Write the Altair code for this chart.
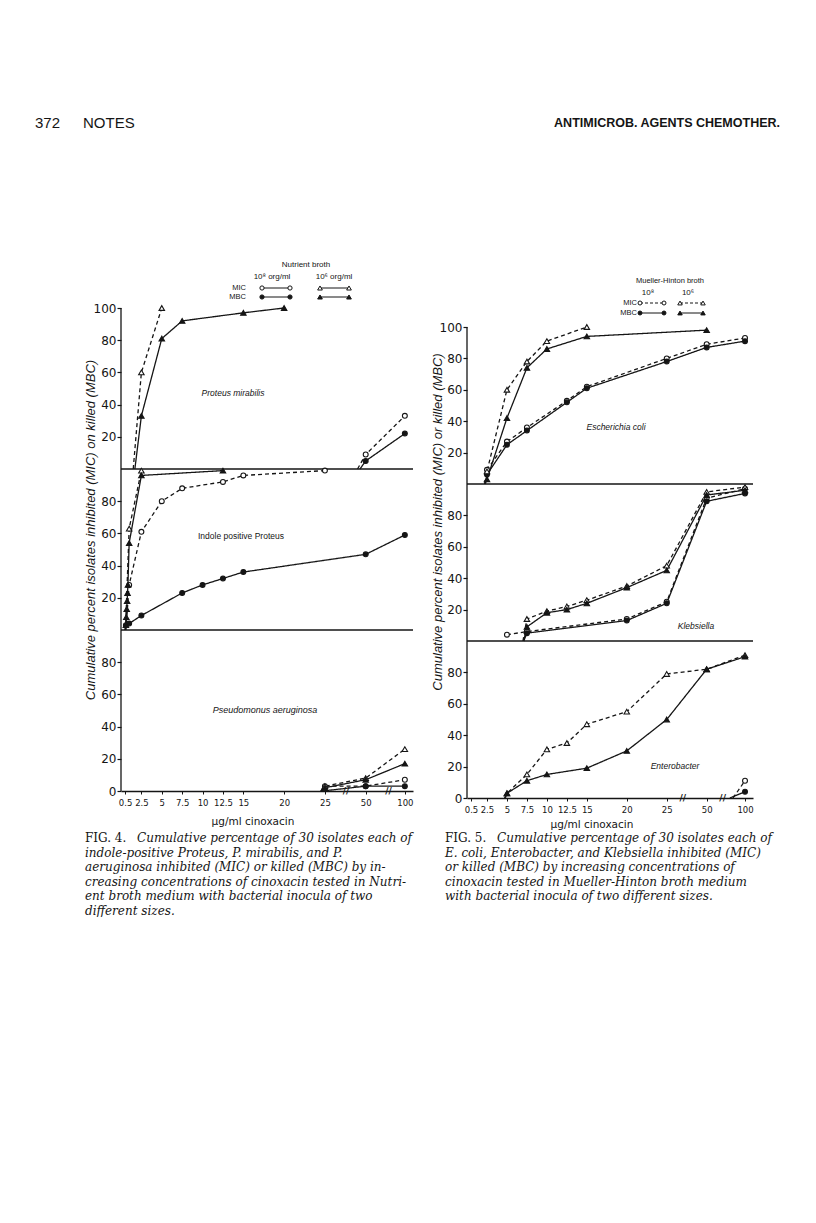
import altair as alt
import pandas as pd

# ---------------------------------------------------------------- axis ticks
X_TICK_CONC = [0.5, 2.5, 5, 7.5, 10, 12.5, 15, 20, 25, 50, 100]
X_TICK_LABELS = ["0.5", "2.5", "5", "7.5", "10", "12.5", "15", "20", "25", "50", "100"]
BROKEN_AT = {50: 30.0, 100: 34.8}          # broken axis: where 50 and 100 sit (axis units)
Y_TICKS = [0, 20, 40, 60, 80, 120, 140, 160, 180, 220, 240, 260, 280, 300]
Y_TICK_LABELS = ["0", "20", "40", "60", "80", "20", "40", "60", "80",
                 "20", "40", "60", "80", "100"]
PANEL_OFFSET = {"top": 200, "middle": 100, "bottom": 0}

# ---------------------------------------------------------------- Fig. 4 data
# lead = axis position where a curve leaves the zero line (no marker)
# Proteus mirabilis (top)
PM_MIC8_C = [50, 100];                  PM_MIC8_V = [9, 33];              PM_MIC8_LEAD = 29.0
PM_MBC8_C = [50, 100];                  PM_MBC8_V = [5, 22];              PM_MBC8_LEAD = 29.3
PM_MIC6_C = [2.5, 5];                   PM_MIC6_V = [60, 100];            PM_MIC6_LEAD = 1.5
PM_MBC6_C = [2.5, 5, 7.5, 15, 20];      PM_MBC6_V = [33, 81, 92, 97, 100]; PM_MBC6_LEAD = 1.7
# Indole positive Proteus (middle)
IP_MIC8_C = [1, 2.5, 5, 7.5, 12.5, 15, 25]
IP_MIC8_V = [28, 61, 80, 88, 92, 96, 99];                                 IP_MIC8_LEAD = 0.6
IP_MBC8_C = [0.6, 1, 2.5, 7.5, 10, 12.5, 15, 50, 100]
IP_MBC8_V = [3, 4, 9, 23, 28, 32, 36, 47, 59];                            IP_MBC8_LEAD = 0.5
IP_MIC6_C = [1, 2.5];                   IP_MIC6_V = [63, 99];             IP_MIC6_LEAD = 0.55
IP_MBC6_C = [0.6, 0.65, 0.7, 0.75, 0.8, 0.85, 1, 2.5, 12.5]
IP_MBC6_V = [3, 8, 13, 18, 23, 28, 54, 96, 99];                           IP_MBC6_LEAD = 0.5
# Pseudomonus aeruginosa (bottom)
PA_MIC6_C = [25, 50, 100];              PA_MIC6_V = [3, 8, 26];           PA_MIC6_LEAD = 24.5
PA_MBC6_C = [25, 50, 100];              PA_MBC6_V = [2, 7, 17];           PA_MBC6_LEAD = 24.6
PA_MIC8_C = [25, 50, 100];              PA_MIC8_V = [3, 3, 7];            PA_MIC8_LEAD = 24.5
PA_MBC8_C = [50, 100];                  PA_MBC8_V = [3, 3];               PA_MBC8_LEAD = 24.7

# ---------------------------------------------------------------- Fig. 5 data
# Escherichia coli (top)
EC_MIC6_C = [2.5, 5, 7.5, 10, 15];      EC_MIC6_V = [8, 60, 78, 91, 100]; EC_MIC6_LEAD = 2.2
EC_MBC6_C = [2.5, 5, 7.5, 10, 15, 50];  EC_MBC6_V = [3, 42, 74, 86, 94, 98]; EC_MBC6_LEAD = 2.2
EC_MIC8_C = [2.5, 5, 7.5, 12.5, 15, 25, 50, 100]
EC_MIC8_V = [9, 27, 36, 53, 62, 80, 89, 93];                              EC_MIC8_LEAD = 2.3
EC_MBC8_C = [2.5, 5, 7.5, 12.5, 15, 25, 50, 100]
EC_MBC8_V = [6, 25, 34, 52, 61, 78, 87, 91];                              EC_MBC8_LEAD = 2.3
# Klebsiella (middle)
KL_MIC8_C = [5, 7.5, 20, 25, 50, 100];  KL_MIC8_V = [4, 6, 14, 25, 91, 97]; KL_MIC8_LEAD = None
KL_MBC8_C = [7.5, 20, 25, 50, 100];     KL_MBC8_V = [5, 13, 24, 89, 94];  KL_MBC8_LEAD = 7.1
KL_MIC6_C = [7.5, 10, 12.5, 15, 20, 25, 50, 100]
KL_MIC6_V = [14, 19, 22, 26, 35, 48, 95, 98];                             KL_MIC6_LEAD = 7.0
KL_MBC6_C = [7.5, 10, 12.5, 15, 20, 25, 50, 100]
KL_MBC6_V = [9, 18, 20, 24, 34, 45, 93, 96];                              KL_MBC6_LEAD = 7.1
# Enterobacter (bottom)
EN_MIC6_C = [5, 7.5, 10, 12.5, 15, 20, 25, 50, 100]
EN_MIC6_V = [3, 15, 31, 35, 47, 55, 79, 82, 91];                          EN_MIC6_LEAD = 4.7
EN_MBC6_C = [5, 7.5, 10, 15, 20, 25, 50, 100]
EN_MBC6_V = [3, 11, 15, 19, 30, 50, 82, 90];                              EN_MBC6_LEAD = 4.8
EN_MIC8_C = [100];                      EN_MIC8_V = [11];                 EN_MIC8_LEAD = 33.3
EN_MBC8_C = [100];                      EN_MBC8_V = [4];                  EN_MBC8_LEAD = 32.9

FIG4_BREAKS = [27.6, 32.8]
FIG5_BREAKS = [27.0, 32.0]

CAPTION4 = ["indole-positive Proteus, P. mirabilis, and P.",
            "aeruginosa inhibited (MIC) or killed (MBC) by in-",
            "creasing concentrations of cinoxacin tested in Nutri-",
            "ent broth medium with bacterial inocula of two",
            "different sizes."]
CAPTION5 = ["E. coli, Enterobacter, and Klebsiella inhibited (MIC)",
            "or killed (MBC) by increasing concentrations of",
            "cinoxacin tested in Mueller-Hinton broth medium",
            "with bacterial inocula of two different sizes."]

INK = "#151515"
SANS = "DejaVu Sans"
LSANS = "Liberation Sans"
SERIF = "DejaVu Serif"
XMAX = 35.8
ONE = pd.DataFrame({"a": [0]})


def to_pos(c):
    return BROKEN_AT.get(c, c) if c > 25 else c


def build_df(series):
    rows = []
    for panel, measure, inoc, lead, conc, vals in series:
        key = f"{panel}|{measure}|{inoc}"
        off = PANEL_OFFSET[panel]
        i = 0
        if lead is not None:
            rows.append(dict(key=key, measure=measure, inoc=inoc, pos=lead, yg=off, idx=i, marker=False))
            i += 1
        for c, v in zip(conc, vals):
            rows.append(dict(key=key, measure=measure, inoc=inoc, pos=to_pos(c), yg=off + v, idx=i, marker=True))
            i += 1
    return pd.DataFrame(rows)


FIG4 = build_df([
    ("top", "MIC", "1e8", PM_MIC8_LEAD, PM_MIC8_C, PM_MIC8_V),
    ("top", "MBC", "1e8", PM_MBC8_LEAD, PM_MBC8_C, PM_MBC8_V),
    ("top", "MIC", "1e6", PM_MIC6_LEAD, PM_MIC6_C, PM_MIC6_V),
    ("top", "MBC", "1e6", PM_MBC6_LEAD, PM_MBC6_C, PM_MBC6_V),
    ("middle", "MIC", "1e8", IP_MIC8_LEAD, IP_MIC8_C, IP_MIC8_V),
    ("middle", "MBC", "1e8", IP_MBC8_LEAD, IP_MBC8_C, IP_MBC8_V),
    ("middle", "MIC", "1e6", IP_MIC6_LEAD, IP_MIC6_C, IP_MIC6_V),
    ("middle", "MBC", "1e6", IP_MBC6_LEAD, IP_MBC6_C, IP_MBC6_V),
    ("bottom", "MIC", "1e6", PA_MIC6_LEAD, PA_MIC6_C, PA_MIC6_V),
    ("bottom", "MBC", "1e6", PA_MBC6_LEAD, PA_MBC6_C, PA_MBC6_V),
    ("bottom", "MIC", "1e8", PA_MIC8_LEAD, PA_MIC8_C, PA_MIC8_V),
    ("bottom", "MBC", "1e8", PA_MBC8_LEAD, PA_MBC8_C, PA_MBC8_V),
])
FIG5 = build_df([
    ("top", "MIC", "1e6", EC_MIC6_LEAD, EC_MIC6_C, EC_MIC6_V),
    ("top", "MBC", "1e6", EC_MBC6_LEAD, EC_MBC6_C, EC_MBC6_V),
    ("top", "MIC", "1e8", EC_MIC8_LEAD, EC_MIC8_C, EC_MIC8_V),
    ("top", "MBC", "1e8", EC_MBC8_LEAD, EC_MBC8_C, EC_MBC8_V),
    ("middle", "MIC", "1e8", KL_MIC8_LEAD, KL_MIC8_C, KL_MIC8_V),
    ("middle", "MBC", "1e8", KL_MBC8_LEAD, KL_MBC8_C, KL_MBC8_V),
    ("middle", "MIC", "1e6", KL_MIC6_LEAD, KL_MIC6_C, KL_MIC6_V),
    ("middle", "MBC", "1e6", KL_MBC6_LEAD, KL_MBC6_C, KL_MBC6_V),
    ("bottom", "MIC", "1e6", EN_MIC6_LEAD, EN_MIC6_C, EN_MIC6_V),
    ("bottom", "MBC", "1e6", EN_MBC6_LEAD, EN_MBC6_C, EN_MBC6_V),
    ("bottom", "MIC", "1e8", EN_MIC8_LEAD, EN_MIC8_C, EN_MIC8_V),
    ("bottom", "MBC", "1e8", EN_MBC8_LEAD, EN_MBC8_C, EN_MBC8_V),
])

X_TICK_POS = [to_pos(c) for c in X_TICK_CONC]
X_LABEL_EXPR = " : ".join(f"abs(datum.value - {p}) < 0.01 ? '{l}'"
                          for p, l in zip(X_TICK_POS, X_TICK_LABELS)) + " : ''"
Y_LABEL_EXPR = " : ".join(f"datum.value == {v} ? '{l}'"
                          for v, l in zip(Y_TICKS, Y_TICK_LABELS)) + " : ''"


def figure(df, W, H, ymax, origin, extras):
    ox, oy = origin
    xaxis = alt.Axis(values=X_TICK_POS, labelExpr=X_LABEL_EXPR, title=None, grid=False,
                     labelFont=SANS, labelFontSize=8.5, labelColor=INK, tickColor=INK,
                     domainColor=INK, domainWidth=1.3, tickSize=3, labelPadding=4,
                     labelOverlap=False, labelFlush=False, labelBound=False,
                     labelSeparation=0)
    yaxis = alt.Axis(values=Y_TICKS, labelExpr=Y_LABEL_EXPR, title=None, grid=False,
                     labelFont=SANS, labelFontSize=12, labelColor=INK, tickColor=INK,
                     domain=False, tickSize=4, tickWidth=1.2,
                     labelPadding=1, labelOverlap=False, labelFlush=False, labelBound=False,
                     labelSeparation=0)
    xs = alt.Scale(domain=[0, XMAX], nice=False, zero=False)
    ys = alt.Scale(domain=[0, ymax], nice=False, zero=False)
    X = lambda f: alt.X(f, scale=xs, axis=xaxis)
    Y = lambda f: alt.Y(f, scale=ys, axis=yaxis)
    base = alt.Chart(df)
    dash = alt.StrokeDash("measure:N", legend=None,
                          scale=alt.Scale(domain=["MIC", "MBC"], range=[[4, 3], [1, 0]]))
    fill = alt.Fill("measure:N", legend=None,
                    scale=alt.Scale(domain=["MIC", "MBC"], range=["white", INK]))
    lines = base.mark_line(color=INK, strokeWidth=1.3).encode(
        x=X("pos:Q"), y=Y("yg:Q"), detail="key:N", order="idx:Q", strokeDash=dash)
    circ = base.transform_filter("datum.marker && datum.inoc == '1e8'").mark_point(
        shape="circle", size=24, filled=True, stroke=INK, strokeWidth=1.1, opacity=1).encode(
        x=X("pos:Q"), y=Y("yg:Q"), fill=fill)
    tri = base.transform_filter("datum.marker && datum.inoc == '1e6'").mark_point(
        shape="triangle-up", size=30, filled=True, stroke=INK, strokeWidth=1.1, opacity=1).encode(
        x=X("pos:Q"), y=Y("yg:Q"), fill=fill)
    seps = alt.Chart(pd.DataFrame({"yg": [100, 200]})).mark_rule(color=INK, strokeWidth=1.3).encode(
        y=Y("yg:Q"), x=alt.value(0), x2=alt.value(W))
    yline = alt.Chart(pd.DataFrame({"yg": [0], "y1": [300]})).mark_rule(
        color=INK, strokeWidth=1.3).encode(
        x=alt.value(0), y=Y("yg:Q"), y2="y1:Q")
    brk = alt.Chart(pd.DataFrame({"pos": extras.breaks})).mark_text(
        text="//", fontSize=9, font=SANS, color=INK, fontWeight="bold").encode(
        x=X("pos:Q"), y=alt.value(H))
    layers = [lines, seps, yline, brk, circ, tri]
    layers += extras(ox, oy, H)
    return alt.layer(*layers).properties(width=W, height=H)


def txt(s, x, y, size=9, align="center", style="normal", weight="normal", angle=0,
        font=LSANS, baseline="middle"):
    return alt.Chart(ONE).mark_text(text=s, fontSize=size, align=align, baseline=baseline,
                                    fontStyle=style, fontWeight=weight, angle=angle,
                                    font=font, color=INK).encode(x=alt.value(x), y=alt.value(y))


def glyph(x, y, shape, filled, size=22):
    return alt.Chart(ONE).mark_point(shape=shape, filled=True, fill=INK if filled else "white",
                                     stroke=INK, strokeWidth=1.0, size=size, opacity=1).encode(
        x=alt.value(x), y=alt.value(y))


def hline(x1, x2, y, dashed=False):
    kw = dict(color=INK, strokeWidth=1.0)
    if dashed:
        kw["strokeDash"] = [3, 2]
    return alt.Chart(ONE).mark_rule(**kw).encode(x=alt.value(x1), x2=alt.value(x2), y=alt.value(y))


def anchor(x, y):
    return alt.Chart(ONE).mark_rule(opacity=0, strokeWidth=0).encode(
        x=alt.value(x), x2=alt.value(x), y=alt.value(y), y2=alt.value(y))


def fig4_extras(ox, oy, H):
    P = lambda X, Y: (X - ox, Y - oy)
    L = []
    L.append(anchor(*P(8, 8)))
    L.append(anchor(*P(425, 8)))
    L.append(txt("372", *P(35, 123), size=15, align="left", font=LSANS))
    L.append(txt("NOTES", *P(83, 123), size=15, align="left", font=LSANS))
    # legend
    L.append(txt("Nutrient broth", *P(306, 265), size=8))
    L.append(txt("10⁸ org/ml", *P(272, 277), size=8))
    L.append(txt("10⁶ org/ml", *P(334, 277), size=8))
    L.append(txt("MIC", *P(246, 288), size=7.5, align="right"))
    L.append(txt("MBC", *P(246, 297), size=7.5, align="right"))
    for yy, filled in [(288, False), (297, True)]:
        L.append(hline(262 - ox, 290 - ox, yy - oy))
        L.append(glyph(262 - ox, yy - oy, "circle", filled, 18))
        L.append(glyph(290 - ox, yy - oy, "circle", filled, 18))
        L.append(hline(320 - ox, 349 - ox, yy - oy))
        L.append(glyph(320 - ox, yy - oy, "triangle-up", filled, 22))
        L.append(glyph(349 - ox, yy - oy, "triangle-up", filled, 22))
    # species
    L.append(txt("Proteus mirabilis", *P(233, 393), size=8.5, style="italic"))
    L.append(txt("Indole positive Proteus", *P(241, 536), size=8.5))
    L.append(txt("Pseudomonus aeruginosa", *P(265, 710), size=9, style="italic"))
    # axis titles
    L.append(txt("Cumulative  percent  isolates  inhibited  (MIC)  on  killed  (MBC)",
                 *P(91, 530), size=13, style="italic", angle=270))
    L.append(txt("µg/ml   cinoxacin", *P(253, 822), size=10.5, font=SANS))
    # caption
    L.append(txt("FIG. 4.", *P(85, 838), size=12, align="left", font=SERIF))
    L.append(txt("Cumulative percentage of 30 isolates each of", *P(137, 838), size=12,
                 align="left", font=SERIF, style="italic"))
    for k, line in enumerate(CAPTION4):
        L.append(txt(line, *P(85, 853 + 14.4 * k), size=12, align="left", font=SERIF, style="italic"))
    return L


def fig5_extras(ox, oy, H):
    P = lambda X, Y: (X - ox, Y - oy)
    L = []
    L.append(anchor(*P(425, 8)))
    L.append(txt("ANTIMICROB. AGENTS CHEMOTHER.", *P(780, 123), size=12.5, align="right",
                 weight="bold", font=LSANS))
    # legend
    L.append(txt("Mueller-Hinton broth", *P(670, 281), size=7.5))
    L.append(txt("10⁸", *P(648, 293), size=8))
    L.append(txt("10⁶", *P(688, 293), size=8))
    L.append(txt("MIC", *P(637, 303), size=7.5, align="right"))
    L.append(txt("MBC", *P(637, 313), size=7.5, align="right"))
    for yy, filled, dashed in [(303, False, True), (313, True, False)]:
        L.append(hline(640 - ox, 664 - ox, yy - oy, dashed))
        L.append(glyph(640 - ox, yy - oy, "circle", filled, 16))
        L.append(glyph(664 - ox, yy - oy, "circle", filled, 16))
        L.append(hline(680 - ox, 703 - ox, yy - oy, dashed))
        L.append(glyph(680 - ox, yy - oy, "triangle-up", filled, 20))
        L.append(glyph(703 - ox, yy - oy, "triangle-up", filled, 20))
    L.append(txt("Escherichia coli", *P(616, 427), size=8.5, style="italic"))
    L.append(txt("Klebsiella", *P(696, 626), size=8.5, style="italic"))
    L.append(txt("Enterobacter", *P(675, 766), size=8.5, style="italic"))
    L.append(txt("Cumulative  percent  isolates  inhibited  (MIC)  or  killed  (MBC)",
                 *P(438, 522), size=13, style="italic", angle=270))
    L.append(txt("µg/ml  cinoxacin", *P(592, 825), size=10.5, font=SANS))
    L.append(txt("FIG. 5.", *P(445, 838), size=12, align="left", font=SERIF))
    L.append(txt("Cumulative percentage of 30 isolates each of", *P(497, 838), size=12,
                 align="left", font=SERIF, style="italic"))
    for k, line in enumerate(CAPTION5):
        L.append(txt(line, *P(445, 853 + 14.4 * k), size=12, align="left", font=SERIF, style="italic"))
    return L


fig4_extras.breaks = FIG4_BREAKS
fig5_extras.breaks = FIG5_BREAKS

# left plot: page y 308..791 for 0..300 ; right plot: 327..798 for 0..300,
# plot areas of an hconcat share their top edge, so the right scale runs higher
RIGHT_YMAX = 300 * (798 - 308) / (798 - 327)
left = figure(FIG4, 292, 483, 300, (121, 308), fig4_extras)
right = figure(FIG5, 286, 490, RIGHT_YMAX, (467, 308), fig5_extras)

chart = alt.hconcat(left, right, spacing=0).properties(
    padding=0, background="white").configure_view(stroke=None)

chart.save("out.html", embed_options={"renderer": "svg", "actions": False})
